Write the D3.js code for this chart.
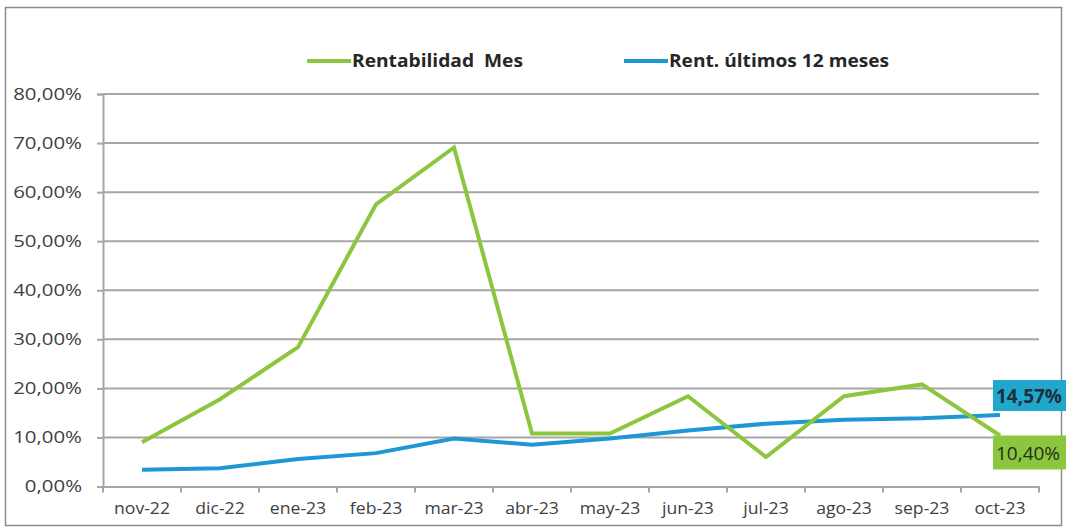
<!DOCTYPE html>
<html>
<head>
<meta charset="utf-8">
<script src="https://cdn.jsdelivr.net/npm/d3@7"></script>
<style>
  body { margin: 0; background: #fff; }
  text { font-family: "Open Sans", Lato, sans-serif; }
</style>
</head>
<body>
<div class="chart"></div>
<script>
const months = ["nov-22", "dic-22", "ene-23", "feb-23", "mar-23", "abr-23", "may-23", "jun-23", "jul-23", "ago-23", "sep-23", "oct-23"];
const rentMes = [9.0, 17.8, 28.4, 57.5, 69.1, 10.8, 10.8, 18.4, 6.0, 18.4, 20.8, 10.40];
const rent12 = [3.4, 3.7, 5.6, 6.8, 9.8, 8.5, 9.8, 11.4, 12.8, 13.6, 13.9, 14.57];
const yTicks = [0, 10, 20, 30, 40, 50, 60, 70, 80];
const seriesNames = ["Rentabilidad  Mes", "Rent. últimos 12 meses"];

const W = 1066, H = 528;
const margin = { top: 94, left: 103, right: 27, bottom: 41.5 };
const width = W - margin.left - margin.right;
const height = H - margin.top - margin.bottom;

const green = "#8cc63f";
const blue = "#1e98d4";
const grid = "#a6a6a6";
const fmt = v => v.toFixed(2).replace(".", ",") + "%";

// widen text a bit, the original font is drawn stretched
function stretch(sel, k) {
  sel.each(function() {
    const w = this.getComputedTextLength();
    d3.select(this)
      .attr("textLength", w * k)
      .attr("lengthAdjust", "spacingAndGlyphs");
  });
}

const root = d3.select(".chart").append("svg")
  .attr("width", W)
  .attr("height", H);

// outer frame
root.append("rect")
  .attr("x", 5.5).attr("y", 7.5)
  .attr("width", 1056).attr("height", 518)
  .attr("fill", "none")
  .attr("stroke", "#8c8c8c")
  .attr("stroke-width", 1.5);

const svg = root.append("g")
  .attr("transform", `translate(${margin.left}, ${margin.top})`);

const x = d3.scaleBand().domain(months).range([0, width]);
const y = d3.scaleLinear().domain([0, 80]).range([height, 0]);
const cx = d => x(d) + x.bandwidth() / 2;

// grid lines
svg.selectAll(".grid")
  .data(yTicks.filter(t => t > 0))
  .enter().append("line")
  .attr("x1", 0).attr("x2", width)
  .attr("y1", d => y(d)).attr("y2", d => y(d))
  .attr("stroke", grid)
  .attr("stroke-width", 2);

// y axis
const yAxis = svg.append("g")
  .call(d3.axisLeft(y).tickValues(yTicks).tickSize(6).tickPadding(15).tickFormat(fmt));
yAxis.select(".domain").attr("stroke", grid).attr("stroke-width", 2);
yAxis.selectAll(".tick line").attr("stroke", grid).attr("stroke-width", 2);
yAxis.selectAll("text")
  .attr("fill", "#404040")
  .style("font-family", "'Open Sans'")
  .style("font-size", "17px")
  .call(stretch, 1.2);

// x axis
const xAxis = svg.append("g")
  .attr("transform", `translate(0, ${height})`)
  .call(d3.axisBottom(x).tickSize(0).tickPadding(16));
xAxis.select(".domain").attr("stroke", grid).attr("stroke-width", 2);
xAxis.selectAll("text")
  .attr("fill", "#404040")
  .style("font-family", "'Open Sans'")
  .style("font-size", "16px")
  .call(stretch, 1.1);
svg.append("g").selectAll("line")
  .data(months.map(m => x(m)).concat([width]))
  .enter().append("line")
  .attr("x1", d => d).attr("x2", d => d)
  .attr("y1", height).attr("y2", height + 6)
  .attr("stroke", grid).attr("stroke-width", 2);

const line = d3.line()
  .x((d, i) => cx(months[i]))
  .y(d => y(d));

svg.append("path")
  .datum(rent12)
  .attr("d", line)
  .attr("fill", "none")
  .attr("stroke", blue)
  .attr("stroke-width", 4);

svg.append("path")
  .datum(rentMes)
  .attr("d", line)
  .attr("fill", "none")
  .attr("stroke", green)
  .attr("stroke-width", 4);

// end labels
const last = months.length - 1;
const lx = cx(months[last]) - 7;

svg.append("rect")
  .attr("x", lx).attr("y", y(rent12[last]) - 35)
  .attr("width", 80).attr("height", 31)
  .attr("fill", "#22a7cc");
svg.append("text")
  .attr("x", lx + 3).attr("y", y(rent12[last]) - 12)
  .attr("fill", "#1b2f3d")
  .style("font-size", "19px")
  .style("font-weight", "bold")
  .text(fmt(rent12[last]));

svg.append("rect")
  .attr("x", lx).attr("y", y(rentMes[last]))
  .attr("width", 80).attr("height", 34)
  .attr("fill", green);
svg.append("text")
  .attr("x", lx + 3).attr("y", y(rentMes[last]) + 25)
  .attr("fill", "#23301a")
  .style("font-size", "19px")
  .text(fmt(rentMes[last]));

// legend
const legend = root.append("g");
const legendItems = [
  { name: seriesNames[0], color: green, x: 307, w: 171 },
  { name: seriesNames[1], color: blue, x: 624, w: 220 }
];
legendItems.forEach(d => {
  legend.append("line")
    .attr("x1", d.x).attr("x2", d.x + 44)
    .attr("y1", 61).attr("y2", 61)
    .attr("stroke", d.color)
    .attr("stroke-width", 4);
  legend.append("text")
    .attr("x", d.x + 45).attr("y", 67)
    .attr("xml:space", "preserve")
    .style("white-space", "pre")
    .attr("textLength", d.w)
    .attr("lengthAdjust", "spacingAndGlyphs")
    .attr("fill", "#262626")
    .style("font-size", "17px")
    .style("font-weight", "bold")
    .text(d.name);
});
</script>
</body>
</html>
